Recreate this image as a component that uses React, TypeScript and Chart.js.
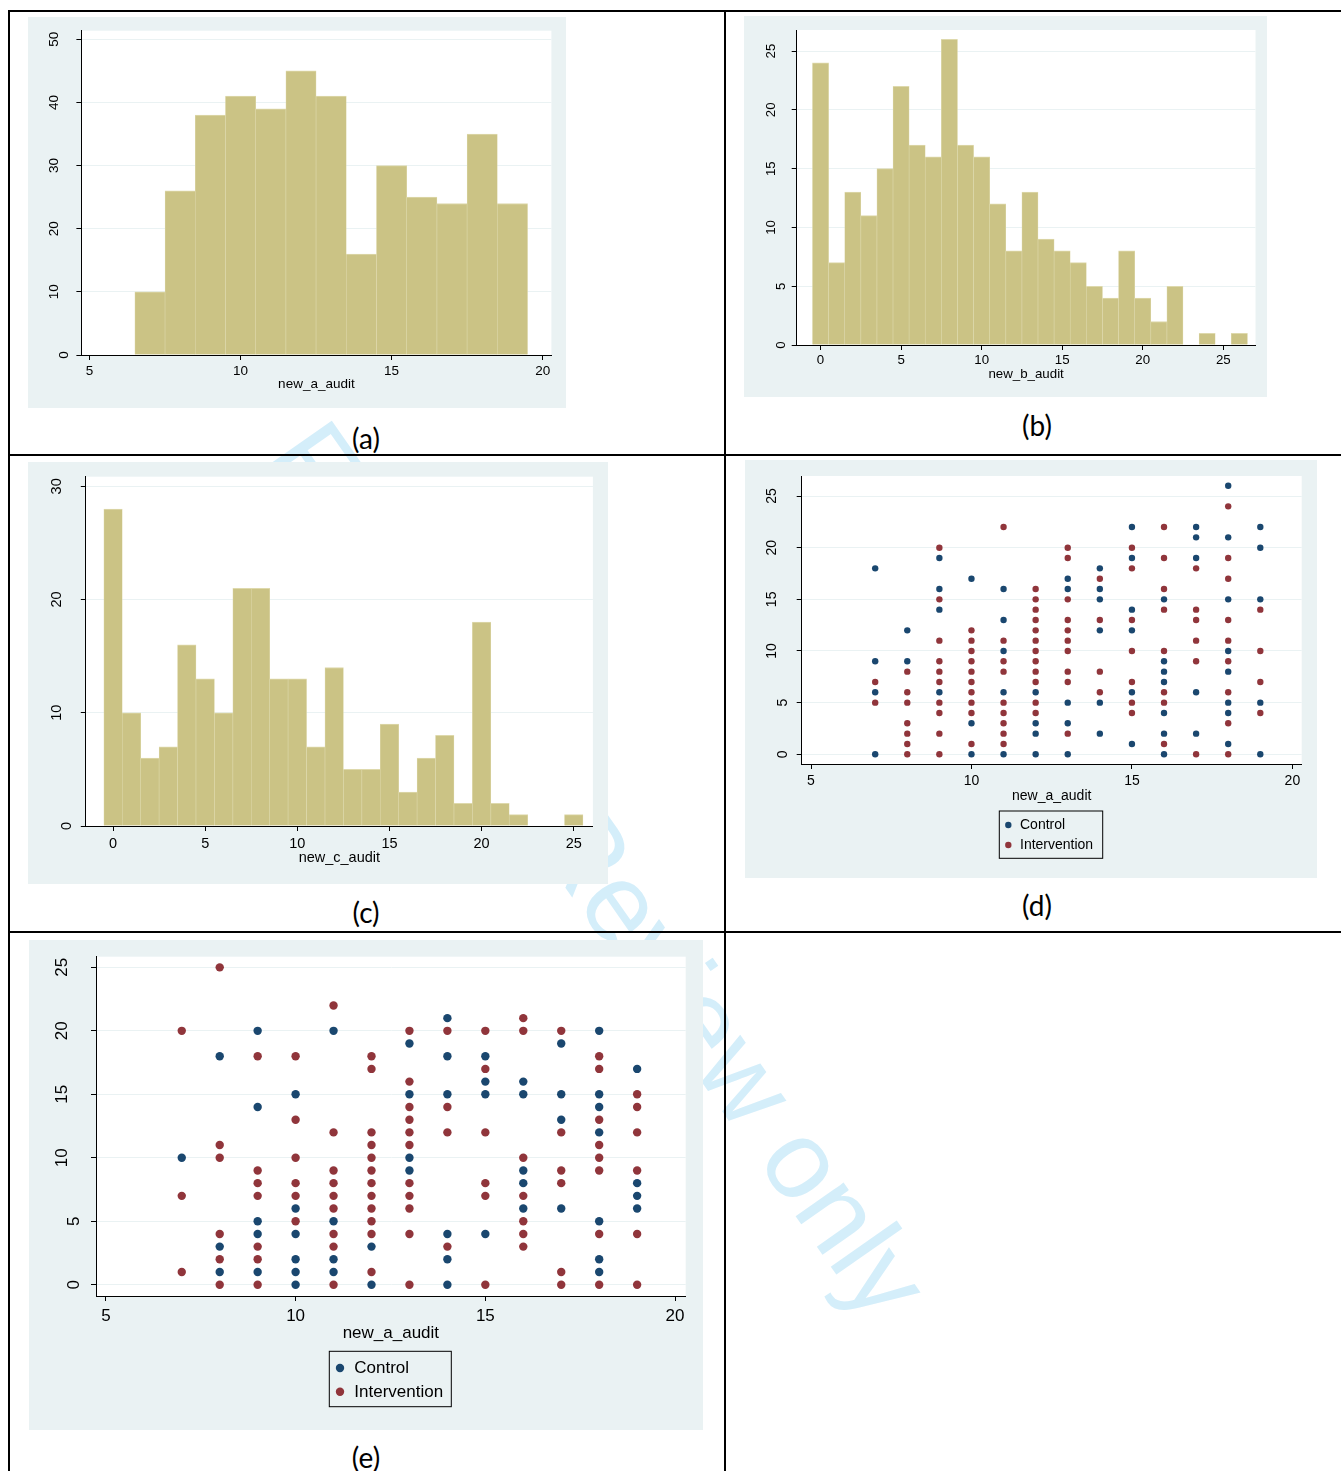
import React, { useEffect, useRef } from "react";
import { Chart, registerables } from "chart.js";

Chart.register(...registerables);
Chart.defaults.font.family = '"Liberation Sans", Arial, sans-serif';

// ---------------- DATA ----------------
// Histogram (a): new_a_audit, bins of width 1 starting at 7
const histAStart = 7;
const histACounts = [10, 26, 38, 41, 39, 45, 41, 16, 30, 25, 24, 35, 24];
// Histogram (b): new_b_audit, bins starting at 0
const histBStart = 0;
const histBCounts = [24, 7, 13, 11, 15, 22, 17, 16, 26, 17, 16, 12, 8, 13, 9, 8, 7, 5, 4, 8, 4, 2, 5, 0, 1, 0, 1];
// Histogram (c): new_c_audit, bins starting at 0
const histCStart = 0;
const histCCounts = [28, 10, 6, 7, 16, 13, 10, 21, 21, 13, 13, 7, 14, 5, 5, 9, 3, 6, 8, 2, 18, 2, 1, 0, 0, 1];

// Scatter (d): x = new_a_audit, y values per x
const dControl: [number, number[]][] = [
  [7, [18, 9, 6, 0]],
  [8, [12, 9]],
  [9, [19, 16, 14, 6]],
  [10, [17, 3, 0]],
  [11, [16, 13, 10, 6, 0]],
  [12, [6, 3, 2, 0]],
  [13, [17, 16, 5, 3, 0]],
  [14, [18, 16, 15, 12, 5, 2]],
  [15, [22, 19, 14, 12, 6, 1]],
  [16, [15, 9, 8, 7, 4, 2, 0]],
  [17, [22, 21, 19, 6, 2]],
  [18, [26, 21, 15, 10, 8, 5, 4, 1]],
  [19, [22, 20, 15, 5, 0]],
];
const dIntervention: [number, number[]][] = [
  [7, [7, 5]],
  [8, [8, 6, 5, 3, 2, 1, 0]],
  [9, [20, 15, 11, 9, 8, 7, 5, 4, 2, 0]],
  [10, [12, 11, 10, 9, 8, 7, 6, 5, 4, 1]],
  [11, [22, 11, 9, 8, 5, 4, 3, 2, 1]],
  [12, [16, 15, 14, 13, 12, 11, 10, 9, 8, 7, 5, 4]],
  [13, [20, 19, 15, 13, 12, 11, 10, 8, 7, 2]],
  [14, [17, 13, 8, 6]],
  [15, [20, 18, 13, 10, 7, 5, 4]],
  [16, [22, 19, 16, 14, 10, 6, 5, 1]],
  [17, [18, 14, 13, 11, 9, 0]],
  [18, [24, 19, 17, 13, 11, 9, 6, 3, 0]],
  [19, [14, 10, 7, 4]],
];

// Scatter (e)
const eControl: [number, number[]][] = [
  [7, [10]],
  [8, [18, 3, 1]],
  [9, [20, 14, 5, 4, 1]],
  [10, [15, 6, 4, 2, 1, 0]],
  [11, [20, 5, 2, 1]],
  [12, [3, 0]],
  [13, [19, 15, 10, 9]],
  [14, [21, 18, 15, 4, 2, 0]],
  [15, [18, 16, 15, 4]],
  [16, [16, 15, 9, 8, 6]],
  [17, [19, 15, 13, 6]],
  [18, [20, 15, 14, 12, 5, 2, 1]],
  [19, [17, 8, 7, 6]],
];
const eIntervention: [number, number[]][] = [
  [7, [20, 7, 1]],
  [8, [25, 11, 10, 4, 2, 0]],
  [9, [18, 9, 8, 7, 3, 2, 0]],
  [10, [18, 13, 10, 8, 7, 5]],
  [11, [22, 12, 9, 8, 7, 6, 4, 3, 0]],
  [12, [18, 17, 12, 11, 10, 9, 8, 7, 6, 5, 4, 1]],
  [13, [20, 16, 14, 13, 12, 11, 8, 7, 6, 4, 0]],
  [14, [20, 14, 12, 3]],
  [15, [20, 17, 12, 8, 7, 0]],
  [16, [21, 20, 10, 7, 5, 4, 3]],
  [17, [20, 12, 9, 8, 1, 0]],
  [18, [18, 17, 13, 11, 10, 9, 4, 0]],
  [19, [15, 14, 12, 9, 4, 0]],
];

// tick labels
const ticksA_X = [5, 10, 15, 20];
const ticksA_Y = [0, 10, 20, 30, 40, 50];
const ticksB_X = [0, 5, 10, 15, 20, 25];
const ticksB_Y = [0, 5, 10, 15, 20, 25];
const ticksC_X = [0, 5, 10, 15, 20, 25];
const ticksC_Y = [0, 10, 20, 30];
const ticksScat_X = [5, 10, 15, 20];
const ticksScat_Y = [0, 5, 10, 15, 20, 25];

const seriesLabels = ["Control", "Intervention"];
const captions = ["(a)", "(b)", "(c)", "(d)", "(e)"];
const xTitles = ["new_a_audit", "new_b_audit", "new_c_audit", "new_a_audit", "new_a_audit"];

// ---------------- STYLE ----------------
const BG = "#EAF2F3";
const BAR = "#CBC385";
const BAR_EDGE = "#DED9AC";
const NAVY = "#1A476F";
const MAROON = "#90353B";

type Geo = {
  L: number; T: number; W: number; H: number;
  pl: number; pt: number; pr: number; pb: number;
  xMin: number; xMax: number; yMin: number; yMax: number;
  xTicks: number[]; yTicks: number[];
  font: number; xTickC: number; xTitleC: number; yLabX: number; tickLen: number;
  legend?: { x1: number; y1: number; x2: number; y2: number; rows: number[]; dotX: number; textX: number };
  radius?: number;
};

const geoA: Geo = { L: 28, T: 17, W: 538, H: 391, pl: 81.4, pt: 30.7, pr: 551.4, pb: 355, xMin: 4.73, xMax: 20.29, yMin: 0, yMax: 51.36, xTicks: ticksA_X, yTicks: ticksA_Y, font: 13.5, xTickC: 371.5, xTitleC: 384.3, yLabX: 54.6, tickLen: 5 };
const geoB: Geo = { L: 744, T: 16, W: 523, H: 381, pl: 796.7, pt: 30, pr: 1255.5, pb: 345, xMin: -1.48, xMax: 27.0, yMin: 0, yMax: 26.79, xTicks: ticksB_X, yTicks: ticksB_Y, font: 13.3, xTickC: 360, xTitleC: 374, yLabX: 771, tickLen: 5 };
const geoC: Geo = { L: 28, T: 462, W: 580, H: 422, pl: 85.8, pt: 476.7, pr: 592.9, pb: 826, xMin: -1.48, xMax: 26.04, yMin: 0, yMax: 30.85, xTicks: ticksC_X, yTicks: ticksC_Y, font: 14.5, xTickC: 844, xTitleC: 858, yLabX: 56.5, tickLen: 5 };
const geoD: Geo = { L: 745, T: 460, W: 572, H: 418, pl: 801.7, pt: 476, pr: 1301.7, pb: 764, xMin: 4.71, xMax: 20.29, yMin: -0.94, yMax: 26.94, xTicks: ticksScat_X, yTicks: ticksScat_Y, font: 14, xTickC: 780.7, xTitleC: 796, yLabX: 772.5, tickLen: 5, radius: 3.2,
  legend: { x1: 999.3, y1: 811, x2: 1102.7, y2: 858.3, rows: [825, 845], dotX: 1008.3, textX: 1020 } };
const geoE: Geo = { L: 29, T: 940, W: 674, H: 490, pl: 96, pt: 956.7, pr: 685.7, pb: 1296, xMin: 4.74, xMax: 20.28, yMin: -0.89, yMax: 25.84, xTicks: ticksScat_X, yTicks: ticksScat_Y, font: 17, xTickC: 1316.7, xTitleC: 1333.3, yLabX: 62, tickLen: 5, radius: 4.2,
  legend: { x1: 329.3, y1: 1351.3, x2: 451.3, y2: 1406.7, rows: [1368, 1391.7], dotX: 340, textX: 354.3 } };

function scalesFor(g: Geo, xTitle: string): any {
  const lh = g.font * 1.2;
  const xAxisH = g.xTitleC + lh / 2 - g.pb;
  const tickPad = g.xTickC - g.pb - g.tickLen - lh / 2;
  return {
    x: {
      type: "linear", min: g.xMin, max: g.xMax, offset: false,
      afterBuildTicks: (ax: any) => { ax.ticks = g.xTicks.map((v) => ({ value: v })); },
      afterFit: (ax: any) => { ax.height = xAxisH; },
      grid: { display: true, offset: false, drawOnChartArea: false, drawTicks: true, tickLength: g.tickLen, tickColor: "#000", tickWidth: 1 },
      border: { display: true, color: "#000", width: 1 },
      ticks: { autoSkip: false, maxRotation: 0, minRotation: 0, padding: tickPad, color: "#000", font: { size: g.font } },
      title: { display: true, text: xTitle, color: "#000", font: { size: g.font }, padding: { top: 0, bottom: 0 } },
    },
    y: {
      type: "linear", min: g.yMin, max: g.yMax,
      afterBuildTicks: (ax: any) => { ax.ticks = g.yTicks.map((v) => ({ value: v })); },
      afterFit: (ax: any) => { ax.width = g.pl - g.L; },
      grid: { display: true, color: BG, lineWidth: 1, drawTicks: true, tickLength: g.tickLen, tickColor: "#000", tickWidth: 1 },
      border: { display: true, color: "#000", width: 1 },
      ticks: { display: false },
    },
  };
}

function layoutFor(g: Geo) {
  const lh = g.font * 1.2;
  const xAxisH = g.xTitleC + lh / 2 - g.pb;
  return {
    padding: {
      left: 0,
      top: g.pt - g.T,
      right: g.L + g.W - g.pr,
      bottom: g.T + g.H - g.pb - xAxisH,
    },
  };
}

function plugins(g: Geo): any[] {
  const plotBg = {
    id: "plotBg",
    beforeDraw(chart: any) {
      const { ctx, chartArea: a } = chart;
      ctx.save();
      ctx.fillStyle = "#ffffff";
      ctx.fillRect(a.left, a.top, a.right - a.left, a.bottom - a.top);
      ctx.restore();
    },
  };
  const yLabels = {
    id: "yLabels",
    afterDraw(chart: any) {
      const { ctx } = chart;
      const s = chart.scales.y;
      ctx.save();
      ctx.font = `${g.font}px "Liberation Sans", Arial, sans-serif`;
      ctx.fillStyle = "#000";
      ctx.textAlign = "center";
      ctx.textBaseline = "middle";
      s.ticks.forEach((t: any) => {
        const y = s.getPixelForValue(t.value);
        const label = String(t.value);
        // single-digit labels sit closer to the axis, as in the Stata output
        const shift = label.length < 2 ? 0.75 * g.font : 0;
        ctx.save();
        ctx.translate(g.yLabX - g.L + shift, y);
        ctx.rotate(-Math.PI / 2);
        ctx.fillText(label, 0, 0);
        ctx.restore();
      });
      ctx.restore();
    },
  };
  const list: any[] = [plotBg, yLabels];
  if (g.legend) {
    const lg = g.legend;
    list.push({
      id: "boxLegend",
      afterDraw(chart: any) {
        const { ctx } = chart;
        ctx.save();
        ctx.strokeStyle = "#000";
        ctx.lineWidth = 1;
        ctx.strokeRect(lg.x1 - g.L, lg.y1 - g.T, lg.x2 - lg.x1, lg.y2 - lg.y1);
        ctx.font = `${g.font}px "Liberation Sans", Arial, sans-serif`;
        ctx.textAlign = "left";
        ctx.textBaseline = "middle";
        chart.data.datasets.forEach((ds: any, i: number) => {
          const cy = lg.rows[i] - g.T;
          ctx.fillStyle = ds.backgroundColor;
          ctx.beginPath();
          ctx.arc(lg.dotX - g.L, cy, g.radius || 3, 0, Math.PI * 2);
          ctx.fill();
          ctx.fillStyle = "#000";
          ctx.fillText(ds.label, lg.textX - g.L, cy + 0.5);
        });
        ctx.restore();
      },
    });
  }
  return list;
}

function histConfig(g: Geo, start: number, counts: number[], xTitle: string): any {
  return {
    type: "bar",
    data: {
      datasets: [
        {
          label: xTitle,
          data: counts.map((c, i) => ({ x: start + i, y: c })),
          backgroundColor: BAR,
          borderColor: BAR_EDGE,
          borderWidth: { top: 1, left: 0.6, right: 0.6, bottom: 0 },
          borderSkipped: "start",
          barPercentage: 1,
          categoryPercentage: 1,
        },
      ],
    },
    options: {
      responsive: false,
      animation: false,
      events: [],
      layout: layoutFor(g),
      plugins: { legend: { display: false }, tooltip: { enabled: false } },
      scales: scalesFor(g, xTitle),
    },
    plugins: plugins(g),
  };
}

function toPoints(cols: [number, number[]][]) {
  const pts: { x: number; y: number }[] = [];
  cols.forEach(([x, ys]) => ys.forEach((y) => pts.push({ x, y })));
  return pts;
}

function scatterConfig(g: Geo, control: [number, number[]][], interv: [number, number[]][], xTitle: string): any {
  const r = g.radius || 3;
  return {
    type: "scatter",
    data: {
      datasets: [
        { label: seriesLabels[0], data: toPoints(control), backgroundColor: NAVY, borderColor: NAVY, pointRadius: r, pointBorderWidth: 0, pointHoverRadius: r },
        { label: seriesLabels[1], data: toPoints(interv), backgroundColor: MAROON, borderColor: MAROON, pointRadius: r, pointBorderWidth: 0, pointHoverRadius: r },
      ],
    },
    options: {
      responsive: false,
      animation: false,
      events: [],
      layout: layoutFor(g),
      plugins: { legend: { display: false }, tooltip: { enabled: false } },
      scales: scalesFor(g, xTitle),
    },
    plugins: plugins(g),
  };
}

function Panel({ g, make }: { g: Geo; make: () => any }) {
  const ref = useRef<HTMLCanvasElement>(null);
  useEffect(() => {
    if (!ref.current) return;
    const chart = new Chart(ref.current, make());
    return () => chart.destroy();
  }, []);
  return (
    <canvas
      ref={ref}
      width={g.W}
      height={g.H}
      style={{ position: "absolute", left: g.L, top: g.T, width: g.W, height: g.H, background: BG, display: "block" }}
    />
  );
}

function Caption({ text, x, y }: { text: string; x: number; y: number }) {
  return (
    <div
      style={{
        position: "absolute", left: x, top: y, transform: "translate(-50%, -50%)",
        fontFamily: "Lato, 'Noto Sans', sans-serif", fontSize: 28, lineHeight: 1, color: "#000", whiteSpace: "nowrap",
      }}
    >
      {text}
    </div>
  );
}

function Line({ x, y, w, h }: { x: number; y: number; w: number; h: number }) {
  return <div style={{ position: "absolute", left: x, top: y, width: w, height: h, background: "#000" }} />;
}

export default function App() {
  return (
    <div style={{ position: "absolute", left: 0, top: 0, width: 1341, height: 1471, background: "#fff", overflow: "hidden" }}>
      <svg width={1341} height={1471} style={{ position: "absolute", left: 0, top: 0 }}>
        <text x={264} y={457} transform="rotate(55 264 457)" fontFamily="'Liberation Sans', Arial, sans-serif" fontSize={111} fill="#D4EEFA">
          For Peer Review only
        </text>
      </svg>
      <Panel g={geoA} make={() => histConfig(geoA, histAStart, histACounts, xTitles[0])} />
      <Panel g={geoB} make={() => histConfig(geoB, histBStart, histBCounts, xTitles[1])} />
      <Panel g={geoC} make={() => histConfig(geoC, histCStart, histCCounts, xTitles[2])} />
      <Panel g={geoD} make={() => scatterConfig(geoD, dControl, dIntervention, xTitles[3])} />
      <Panel g={geoE} make={() => scatterConfig(geoE, eControl, eIntervention, xTitles[4])} />
      <Caption text={captions[0]} x={366} y={438} />
      <Caption text={captions[1]} x={1037} y={425} />
      <Caption text={captions[2]} x={366} y={912} />
      <Caption text={captions[3]} x={1037} y={905} />
      <Caption text={captions[4]} x={366} y={1457} />
      <Line x={8} y={10} w={1333} h={2} />
      <Line x={8} y={454} w={1333} h={2} />
      <Line x={8} y={930.5} w={1333} h={2} />
      <Line x={8} y={10} w={2} h={1461} />
      <Line x={724} y={10} w={2} h={1461} />
    </div>
  );
}
